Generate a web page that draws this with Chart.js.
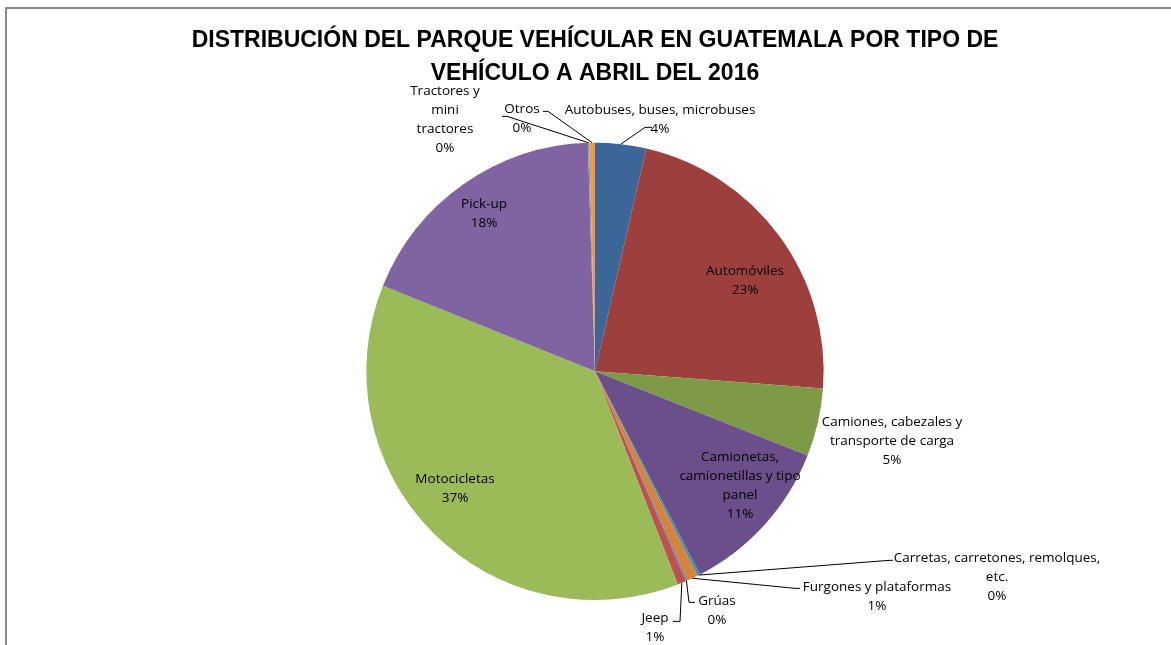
<!DOCTYPE html>
<html>
<head>
<meta charset="utf-8">
<script src="https://cdn.jsdelivr.net/npm/chart.js@4.4.0/dist/chart.umd.min.js"></script>
<style>
  html, body { margin: 0; padding: 0; background: #fff; overflow: hidden; }
  #wrap { position: relative; width: 1171px; height: 645px; }
  #frame { position: absolute; left: 5px; top: 7px; width: 1300px; height: 800px;
           border-top: 2px solid #8a8a8a; border-left: 2px solid #8a8a8a; }
  canvas { position: absolute; left: 0; top: 0; }
</style>
</head>
<body>
<div id="wrap">
  <div id="frame"></div>
  <canvas id="pieChart" width="1171" height="645"></canvas>
</div>
<script>
// categories and values (percent of total fleet)
const categories = [
    'Autobuses, buses, microbuses',
    'Automóviles',
    'Camiones, cabezales y transporte de carga',
    'Camionetas, camionetillas y tipo panel',
    'Carretas, carretones, remolques, etc.',
    'Furgones y plataformas',
    'Grúas',
    'Jeep',
    'Motocicletas',
    'Pick-up',
    'Tractores y mini tractores',
    'Otros'
];
const shares = [3.6, 22.6, 4.8, 11.4, 0.2, 0.8, 0.1, 0.6, 37.0, 18.4, 0.1, 0.4];

// how each label is wrapped in the picture
const labelLines = [
    ['Autobuses, buses, microbuses'],
    ['Automóviles'],
    ['Camiones, cabezales y', 'transporte de carga'],
    ['Camionetas,', 'camionetillas y tipo', 'panel'],
    ['Carretas, carretones, remolques,', 'etc.'],
    ['Furgones y plataformas'],
    ['Grúas'],
    ['Jeep'],
    ['Motocicletas'],
    ['Pick-up'],
    ['Tractores y', 'mini', 'tractores'],
    ['Otros']
];

const colors = ['#3D6698', '#9D403D', '#7E9A46', '#6A4F8A', '#3A93AC', '#D8833B',
                '#4F81BD', '#C0504D', '#9BBB59', '#8064A2', '#4BACC6', '#F79646'];

// label block centre, relative to pie centre; optional leader elbow/end points
const labelPlace = [
    { d: [65, -252], leader: [[50, -244], [57, -244]] },
    { d: [150, -91] },
    { d: [297, 70] },
    { d: [145, 114] },
    { d: [402, 206], leader: [[294, 189], [298, 189]] },
    { d: [282, 225], leader: [[200, 217], [205, 217]] },
    { d: [122, 239], leader: [[94, 231], [100, 231]] },
    { d: [60, 256], leader: [[85, 250], [78, 250]] },
    { d: [-140, 117] },
    { d: [-111, -158] },
    { d: [-150, -252], leader: [[-88, -255], [-93, -255]] },
    { d: [-73, -253], leader: [[-47, -260], [-52, -260]] }
];

const total = shares.reduce((a, b) => a + b, 0);

const pieLabels = {
    id: 'pieLabels',
    afterDraw(chart) {
        const ctx = chart.ctx;
        const meta = chart.getDatasetMeta(0);
        const lh = 19;
        ctx.save();
        ctx.font = '13.5px "Open Sans"';
        ctx.fillStyle = '#000';
        ctx.textAlign = 'center';
        ctx.textBaseline = 'middle';
        meta.data.forEach((arc, i) => {
            const cx = arc.x, cy = arc.y;
            const p = labelPlace[i];
            if (p.leader) {
                const mid = (arc.startAngle + arc.endAngle) / 2;
                const r = arc.outerRadius;
                ctx.beginPath();
                ctx.strokeStyle = '#000';
                ctx.lineWidth = 1;
                ctx.moveTo(cx + Math.cos(mid) * r, cy + Math.sin(mid) * r);
                p.leader.forEach(pt => ctx.lineTo(cx + pt[0], cy + pt[1]));
                ctx.stroke();
            }
            const lines = labelLines[i].concat([Math.round(shares[i] / total * 100) + '%']);
            const top = cy + p.d[1] - (lines.length - 1) * lh / 2;
            lines.forEach((t, k) => ctx.fillText(t, cx + p.d[0], top + k * lh));
        });
        ctx.restore();
    }
};

new Chart(document.getElementById('pieChart'), {
    type: 'pie',
    data: {
        labels: categories,
        datasets: [{
            data: shares,
            backgroundColor: colors,
            borderWidth: 0
        }]
    },
    options: {
        responsive: false,
        animation: false,
        layout: { padding: { top: 0, bottom: 45, left: 19, right: 0 } },
        plugins: {
            legend: { display: false },
            tooltip: { enabled: false },
            title: {
                display: true,
                text: ['DISTRIBUCIÓN DEL PARQUE VEHÍCULAR EN GUATEMALA POR TIPO DE',
                       'VEHÍCULO A ABRIL DEL 2016'],
                color: '#000',
                font: { family: '"Liberation Sans"', size: 23, weight: 'bold', lineHeight: 1.45 },
                padding: { top: 24, bottom: 52 }
            }
        }
    },
    plugins: [pieLabels]
});
</script>
</body>
</html>
